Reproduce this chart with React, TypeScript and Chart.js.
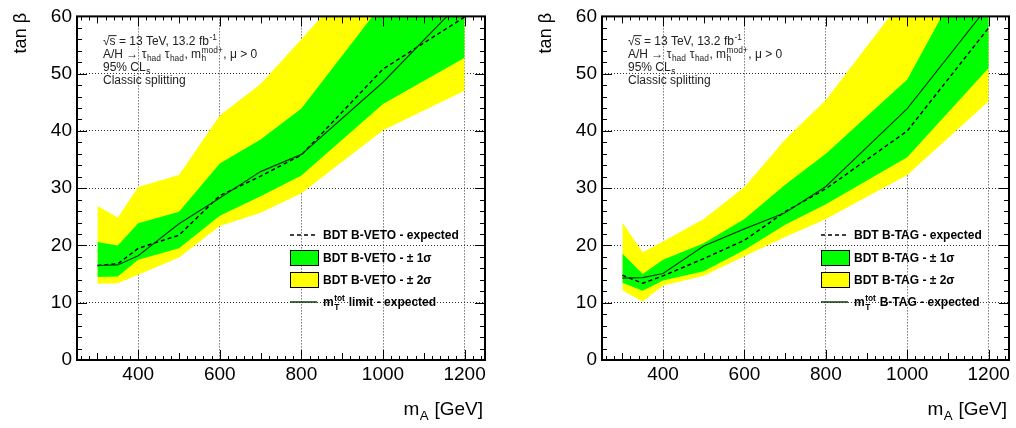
import React, { useEffect, useRef } from 'react';
import { Chart, registerables } from 'chart.js';

Chart.register(...registerables);

// ---------------- data ----------------
const masses = [300, 350, 400, 500, 600, 700, 800, 1000, 1200];
const xTickLabels = [400, 600, 800, 1000, 1200];
const yTickLabels = [0, 10, 20, 30, 40, 50, 60];

// Left panel: BDT B-VETO
const vetoExpected = [16.5, 16.8, 19.5, 21.8, 28.7, 32.1, 35.8, 50.8, 59.9];
const vetoMtTot = [16.5, 16.6, 18.2, 23.8, 28.3, 32.9, 35.9, 48.5, 63.2];
const vetoOneSigmaUp = [20.6, 20.0, 23.9, 25.9, 34.3, 38.5, 43.9, 62.4, 75];
const vetoOneSigmaDown = [14.5, 14.6, 17.5, 19.5, 25.2, 28.6, 32.2, 44.7, 52.8];
const vetoTwoSigmaUp = [26.9, 24.9, 30.2, 32.3, 42.7, 48.2, 56.0, 72, 85];
const vetoTwoSigmaDown = [13.3, 13.4, 14.9, 17.9, 23.4, 25.7, 29.1, 40.1, 47.0];

// Right panel: BDT B-TAG
const tagExpected = [14.8, 13.4, 14.7, 17.7, 20.9, 25.9, 29.9, 40.0, 58.0];
const tagMtTot = [14.3, 14.4, 15.1, 19.9, 22.9, 25.7, 30.3, 43.9, 61.9];
const tagOneSigmaUp = [18.6, 15.0, 17.5, 20.4, 24.6, 30.6, 36.0, 49.0, 75];
const tagOneSigmaDown = [13.5, 12.1, 13.9, 15.5, 19.2, 23.6, 27.2, 35.4, 51.0];
const tagTwoSigmaUp = [24.0, 18.8, 20.7, 24.6, 30.2, 38.5, 45.4, 64, 80];
const tagTwoSigmaDown = [12.2, 10.2, 13.0, 14.7, 18.1, 21.5, 24.6, 32.3, 45.2];

// ---------------- styles ----------------
const FAM = '"Liberation Sans", Arial, Helvetica, sans-serif';
const YELLOW = '#ffff00';
const GREEN = '#00ff00';
const DKGREEN = '#0b3b0b';

type Seg = { t: string; sub?: string; sup?: string; over?: boolean };

function fontStr(size: number, weight: string) {
  return `${weight} ${size}px ${FAM}`;
}

function segWidth(ctx: CanvasRenderingContext2D, s: Seg, size: number, weight: string) {
  ctx.font = fontStr(size, weight);
  let w = ctx.measureText(s.t).width;
  const small = size * 0.7;
  ctx.font = fontStr(small, weight);
  const a = s.sub ? ctx.measureText(s.sub).width : 0;
  const b = s.sup ? ctx.measureText(s.sup).width : 0;
  return w + Math.max(a, b) + (s.sub || s.sup ? 1 : 0);
}

function richWidth(ctx: CanvasRenderingContext2D, segs: Seg[], size: number, weight: string) {
  return segs.reduce((acc, s) => acc + segWidth(ctx, s, size, weight), 0);
}

function drawRich(
  ctx: CanvasRenderingContext2D,
  x: number,
  y: number,
  segs: Seg[],
  size: number,
  weight: string,
  color: string
) {
  ctx.save();
  ctx.fillStyle = color;
  ctx.strokeStyle = color;
  ctx.textBaseline = 'alphabetic';
  ctx.textAlign = 'left';
  let cx = x;
  for (const s of segs) {
    ctx.font = fontStr(size, weight);
    ctx.fillText(s.t, cx, y);
    const w = ctx.measureText(s.t).width;
    if (s.over) {
      ctx.lineWidth = 1;
      ctx.beginPath();
      ctx.moveTo(cx - 1, y - size * 0.78);
      ctx.lineTo(cx + w + 1, y - size * 0.78);
      ctx.stroke();
    }
    cx += w;
    if (s.sub || s.sup) {
      const small = size * 0.7;
      ctx.font = fontStr(small, weight);
      let a = 0;
      let b = 0;
      if (s.sup) {
        ctx.fillText(s.sup, cx + 0.5, y - size * 0.45);
        b = ctx.measureText(s.sup).width;
      }
      if (s.sub) {
        ctx.fillText(s.sub, cx + 0.5, y + size * 0.28);
        a = ctx.measureText(s.sub).width;
      }
      cx += Math.max(a, b) + 1;
    }
  }
  ctx.restore();
}

type Panel = {
  expected: number[];
  mt: number[];
  g1u: number[];
  g1d: number[];
  y2u: number[];
  y2d: number[];
  tag: string;
  mtLabel: string;
  legendOffset: number; // distance of legend sample from right frame
  padRight: number;
};

const infoLines: Seg[][] = [
  [{ t: '\u221A' }, { t: 's', over: true }, { t: ' = 13 TeV, 13.2 fb', sup: '-1' }],
  [
    { t: 'A/H \u2192 \u03C4', sub: 'had' },
    { t: ' \u03C4', sub: 'had' },
    { t: ', m', sub: 'h', sup: 'mod+' },
    { t: ', \u03BC > 0' },
  ],
  [{ t: '95% CL', sub: 's' }],
  [{ t: 'Classic splitting' }],
];

function overlayPlugin(p: Panel) {
  return {
    id: 'overlay',
    afterDraw(chart: any) {
      const ctx: CanvasRenderingContext2D = chart.ctx;
      const { left, right, top, bottom } = chart.chartArea;
      const xs = chart.scales.x;
      const ys = chart.scales.y;
      ctx.save();
      ctx.strokeStyle = '#000';
      ctx.lineWidth = 1;
      // x ticks (inside, bottom and top)
      ctx.beginPath();
      for (let v = 260; v <= 1240; v += 20) {
        const px = Math.round(xs.getPixelForValue(v)) + 0.5;
        const len = v % 200 === 0 ? 10 : v % 100 === 0 ? 7 : 4;
        ctx.moveTo(px, bottom);
        ctx.lineTo(px, bottom - len);
        ctx.moveTo(px, top);
        ctx.lineTo(px, top + len);
      }
      // y ticks (inside, left and right)
      for (let v = 2; v < 60; v += 2) {
        const py = Math.round(ys.getPixelForValue(v)) + 0.5;
        const len = v % 10 === 0 ? 10 : 5;
        ctx.moveTo(left, py);
        ctx.lineTo(left + len, py);
        ctx.moveTo(right, py);
        ctx.lineTo(right - len, py);
      }
      ctx.stroke();
      // frame
      ctx.lineWidth = 2;
      ctx.strokeRect(left, top, right - left, bottom - top);

      // axis titles
      ctx.fillStyle = '#000';
      ctx.font = fontStr(18, 'normal');
      ctx.save();
      ctx.translate(26, 13);
      ctx.rotate(-Math.PI / 2);
      ctx.textAlign = 'right';
      ctx.textBaseline = 'alphabetic';
      ctx.fillText('tan \u03B2', 0, 0);
      ctx.restore();

      const xTitle: Seg[] = [{ t: 'm', sub: 'A' }, { t: ' [GeV]' }];
      const wt = richWidth(ctx, xTitle, 19, 'normal');
      drawRich(ctx, right - 2 - wt, 415, xTitle, 19, 'normal', '#000');

      // info text
      const tx = left + 26;
      const baselines = [45, 58, 71, 84];
      infoLines.forEach((segs, i) => drawRich(ctx, tx, baselines[i], segs, 12, 'normal', '#222'));

      // legend
      const sx = right - p.legendOffset;
      const textX = sx + 33;
      const rows = [235, 258, 280, 302];
      ctx.lineWidth = 1.5;
      ctx.setLineDash([4, 3]);
      ctx.beginPath();
      ctx.moveTo(sx, rows[0]);
      ctx.lineTo(sx + 27, rows[0]);
      ctx.stroke();
      ctx.setLineDash([]);
      ctx.lineWidth = 1;
      ctx.fillStyle = GREEN;
      ctx.fillRect(sx, rows[1] - 7.5, 28, 15);
      ctx.strokeRect(sx + 0.5, rows[1] - 7.5, 28, 15);
      ctx.fillStyle = YELLOW;
      ctx.fillRect(sx, rows[2] - 7.5, 28, 15);
      ctx.strokeRect(sx + 0.5, rows[2] - 7.5, 28, 15);
      ctx.strokeStyle = DKGREEN;
      ctx.lineWidth = 1.5;
      ctx.beginPath();
      ctx.moveTo(sx, rows[3]);
      ctx.lineTo(sx + 27, rows[3]);
      ctx.stroke();

      const fs = 12;
      const off = 4.3;
      drawRich(ctx, textX, rows[0] + off, [{ t: `BDT ${p.tag} - expected` }], fs, 'bold', '#000');
      drawRich(ctx, textX, rows[1] + off, [{ t: `BDT ${p.tag} - \u00B1 1\u03C3` }], fs, 'bold', '#000');
      drawRich(ctx, textX, rows[2] + off, [{ t: `BDT ${p.tag} - \u00B1 2\u03C3` }], fs, 'bold', '#000');
      drawRich(ctx, textX, rows[3] + off, [{ t: 'm', sub: 'T', sup: 'tot' }, { t: ' ' + p.mtLabel }], fs, 'bold', '#000');
      ctx.restore();
    },
  };
}

function toXY(vals: number[]) {
  return masses.map((m, i) => ({ x: m, y: vals[i] }));
}

function makeChart(canvas: HTMLCanvasElement, p: Panel) {
  const band = (vals: number[], color: string, fill: any, order: number) => ({
    data: toXY(vals),
    fill,
    backgroundColor: color,
    borderColor: 'rgba(0,0,0,0)',
    borderWidth: 0,
    pointRadius: 0,
    tension: 0,
    order,
  });
  return new Chart(canvas, {
    type: 'line',
    data: {
      datasets: [
        band(p.y2u, YELLOW, '+1', 4),
        band(p.y2d, YELLOW, false, 4),
        band(p.g1u, GREEN, '+1', 3),
        band(p.g1d, GREEN, false, 3),
        {
          data: toXY(p.expected),
          borderColor: '#000',
          borderWidth: 1.5,
          borderDash: [4, 3],
          pointRadius: 0,
          fill: false,
          order: 1,
        },
        {
          data: toXY(p.mt),
          borderColor: DKGREEN,
          borderWidth: 1.2,
          pointRadius: 0,
          fill: false,
          order: 0,
        },
      ] as any,
    },
    options: {
      animation: false,
      responsive: false,
      maintainAspectRatio: false,
      events: [],
      layout: { padding: { left: 0, right: p.padRight, top: 11, bottom: 0 } },
      scales: {
        x: {
          type: 'linear',
          min: 250,
          max: 1250,
          afterBuildTicks: (s: any) => {
            s.ticks = xTickLabels.map((v) => ({ value: v }));
          },
          afterFit: (s: any) => {
            s.height = 68;
          },
          grid: { drawTicks: false, color: '#333', lineWidth: 1 },
          border: { display: false, dash: [1, 2] },
          ticks: {
            padding: 3,
            color: '#000',
            font: { family: FAM, size: 19 },
            maxRotation: 0,
            autoSkip: false,
            callback: (v: any) => String(v),
          },
        },
        y: {
          type: 'linear',
          min: 0,
          max: 60,
          afterBuildTicks: (s: any) => {
            s.ticks = yTickLabels.map((v) => ({ value: v }));
          },
          afterFit: (s: any) => {
            s.width = 77;
          },
          grid: { drawTicks: false, color: '#333', lineWidth: 1 },
          border: { display: false, dash: [1, 2] },
          ticks: {
            padding: 5,
            color: '#000',
            font: { family: FAM, size: 19 },
            autoSkip: false,
            callback: (v: any) => String(v),
          },
        },
      },
      plugins: {
        legend: { display: false },
        tooltip: { enabled: false },
        title: { display: false },
      },
    } as any,
    plugins: [overlayPlugin(p)],
  });
}

const leftPanel: Panel = {
  expected: vetoExpected,
  mt: vetoMtTot,
  g1u: vetoOneSigmaUp,
  g1d: vetoOneSigmaDown,
  y2u: vetoTwoSigmaUp,
  y2d: vetoTwoSigmaDown,
  tag: 'B-VETO',
  mtLabel: 'limit - expected',
  legendOffset: 195,
  padRight: 23,
};

const rightPanel: Panel = {
  expected: tagExpected,
  mt: tagMtTot,
  g1u: tagOneSigmaUp,
  g1d: tagOneSigmaDown,
  y2u: tagTwoSigmaUp,
  y2d: tagTwoSigmaDown,
  tag: 'B-TAG',
  mtLabel: 'B-TAG - expected',
  legendOffset: 188,
  padRight: 7,
};

function PanelCanvas({ panel, left, width }: { panel: Panel; left: number; width: number }) {
  const ref = useRef<HTMLCanvasElement | null>(null);
  useEffect(() => {
    if (!ref.current) return;
    const chart = makeChart(ref.current, panel);
    return () => chart.destroy();
  }, [panel]);
  return (
    <canvas
      ref={ref}
      width={width}
      height={428}
      style={{ position: 'absolute', left, top: 0, width, height: 428, display: 'block' }}
    />
  );
}

export default function App() {
  return (
    <div style={{ position: 'absolute', left: 0, top: 0, width: 1016, height: 428, background: '#fff' }}>
      <PanelCanvas panel={leftPanel} left={0} width={508} />
      <PanelCanvas panel={rightPanel} left={525} width={491} />
    </div>
  );
}
